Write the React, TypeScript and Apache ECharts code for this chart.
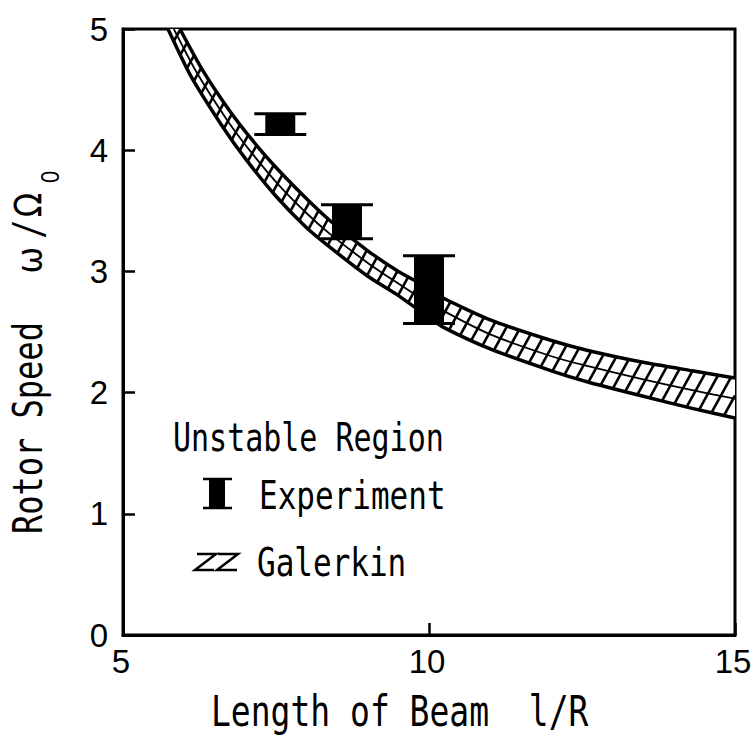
import React, { useEffect, useRef } from "react";
import * as echarts from "echarts";

// ---- Data ----
// Experiment (unstable region measured): x = l/R, low/high = w/Omega0
const expX = [7.57, 8.66, 10.0];
const expLow = [4.13, 3.27, 2.57];
const expHigh = [4.3, 3.55, 3.13];

// Galerkin band boundaries
const upperX = [5.93, 6.3, 6.75, 7.2, 7.57, 8.0, 8.38, 9.0, 9.5, 10.0, 10.23, 11.0, 12.0, 12.58, 13.5, 14.3, 15.0];
const upperY = [5.0, 4.66, 4.32, 4.03, 3.82, 3.6, 3.42, 3.17, 3.0, 2.86, 2.78, 2.6, 2.43, 2.35, 2.25, 2.18, 2.12];
const lowerX = [5.735, 6.1, 6.62, 7.0, 7.5, 8.0, 8.38, 9.0, 9.5, 10.0, 10.23, 11.0, 12.0, 12.58, 13.5, 14.3, 15.0];
const lowerY = [5.0, 4.62, 4.2, 3.93, 3.62, 3.36, 3.2, 2.96, 2.8, 2.62, 2.54, 2.36, 2.18, 2.09, 1.97, 1.87, 1.79];
const midX = [5.83, 6.2, 6.7, 7.1, 7.55, 8.0, 8.38, 9.0, 9.5, 10.0, 11.0, 12.0, 12.5, 13.5, 14.3, 15.0];
const midY = [5.0, 4.645, 4.25, 3.98, 3.71, 3.48, 3.31, 3.07, 2.9, 2.74, 2.48, 2.3, 2.23, 2.11, 2.02, 1.95];

const xRange = [5, 15];
const yRange = [0, 5];
const xInterval = 5;
const yInterval = 1;

const legendTitle = "Unstable Region";
const legendExp = "Experiment";
const legendGal = "Galerkin";
const xTitle = "Length of Beam  l/R";
const yTitleMain = "Rotor Speed";

function hatchSegments(poly: number[][], k: number, spacing: number) {
  const us = poly.map((p) => p[0] + k * p[1]);
  const uMin = Math.min(...us);
  const uMax = Math.max(...us);
  const segs: number[][] = [];
  for (let c = Math.ceil(uMin / spacing) * spacing + 0.5; c < uMax; c += spacing) {
    const pts: number[][] = [];
    for (let i = 0; i < poly.length; i++) {
      const p = poly[i];
      const q = poly[(i + 1) % poly.length];
      const up = us[i];
      const uq = us[(i + 1) % poly.length];
      if ((up <= c && uq > c) || (uq <= c && up > c)) {
        const t = (c - up) / (uq - up);
        pts.push([p[0] + t * (q[0] - p[0]), p[1] + t * (q[1] - p[1])]);
      }
    }
    pts.sort((a, b) => a[1] - b[1]);
    for (let j = 0; j + 1 < pts.length; j += 2) {
      segs.push([pts[j][0], pts[j][1], pts[j + 1][0], pts[j + 1][1]]);
    }
  }
  return segs;
}

const MONO = '"DejaVu Sans Mono", monospace';
const SCALE_Y = 1.28;

export default function App() {
  const ref = useRef<HTMLDivElement>(null);
  useEffect(() => {
    const chart = echarts.init(ref.current!, null, { renderer: "svg" });
    const labelStyle = {
      color: "#000",
      fontSize: 33,
      fontWeight: "normal",
      fontFamily: "Liberation Sans",
    };
    const option: any = {
      animation: false,
      backgroundColor: "#fff",
      grid: {
        left: 123,
        right: 18,
        top: 29,
        bottom: 101,
        show: true,
        borderColor: "#000",
        borderWidth: 3,
        containLabel: false,
        outerBoundsMode: "none",
      },
      xAxis: {
        type: "value",
        min: xRange[0],
        max: xRange[1],
        interval: xInterval,
        axisLine: { show: true, lineStyle: { color: "#000", width: 3 } },
        axisTick: { show: true, inside: true, length: 12, lineStyle: { color: "#000", width: 2.5 } },
        splitLine: { show: false },
        axisLabel: { ...labelStyle, margin: 10, padding: [0, 4, 0, 0] },
      },
      yAxis: {
        type: "value",
        min: yRange[0],
        max: yRange[1],
        interval: yInterval,
        axisLine: { show: true, lineStyle: { color: "#000", width: 3 } },
        axisTick: { show: true, inside: true, length: 12, lineStyle: { color: "#000", width: 2.5 } },
        splitLine: { show: false },
        axisLabel: { ...labelStyle, margin: 15 },
      },
      series: [
        {
          type: "custom",
          name: "Galerkin",
          clip: true,
          data: [[10, 2.7]],
          encode: { x: 0, y: 1 },
          renderItem: (params: any, api: any) => {
            const up = upperX.map((x, i) => api.coord([x, upperY[i]]));
            const lo = lowerX.map((x, i) => api.coord([x, lowerY[i]]));
            const md = midX.map((x, i) => api.coord([x, midY[i]]));
            const poly = up.concat(lo.slice().reverse());
            const segs = hatchSegments(poly, 0.55, 14);
            const children: any[] = [];
            children.push({
              type: "polygon",
              shape: { points: poly },
              style: { fill: "#fff", stroke: "none" },
            });
            segs.forEach((s) =>
              children.push({
                type: "line",
                shape: { x1: s[0], y1: s[1], x2: s[2], y2: s[3] },
                style: { stroke: "#000", lineWidth: 2.6 },
              })
            );
            children.push({
              type: "polyline",
              shape: { points: md, smooth: 0.2 },
              style: { stroke: "#000", lineWidth: 1.8, fill: null },
            });
            children.push({
              type: "polyline",
              shape: { points: up, smooth: 0.2 },
              style: { stroke: "#000", lineWidth: 3.5, fill: null },
            });
            children.push({
              type: "polyline",
              shape: { points: lo, smooth: 0.2 },
              style: { stroke: "#000", lineWidth: 3.5, fill: null },
            });
            return { type: "group", children };
          },
          z: 2,
        },
        {
          type: "custom",
          name: "Experiment",
          clip: true,
          data: expX.map((x, i) => [x, expLow[i], expHigh[i]]),
          encode: { x: 0, y: [1, 2] },
          renderItem: (params: any, api: any) => {
            const x = api.value(0);
            const lo = api.value(1);
            const hi = api.value(2);
            const pt = api.coord([x, hi]);
            const pb = api.coord([x, lo]);
            return {
              type: "group",
              children: [
                {
                  type: "rect",
                  shape: { x: pt[0] - 15, y: pt[1], width: 30, height: pb[1] - pt[1] },
                  style: { fill: "#000" },
                },
                {
                  type: "line",
                  shape: { x1: pt[0] - 26, y1: pt[1], x2: pt[0] + 26, y2: pt[1] },
                  style: { stroke: "#000", lineWidth: 3 },
                },
                {
                  type: "line",
                  shape: { x1: pb[0] - 26, y1: pb[1], x2: pb[0] + 26, y2: pb[1] },
                  style: { stroke: "#000", lineWidth: 3 },
                },
              ],
            };
          },
          z: 3,
        },
      ],
      graphic: {
        elements: [
          // x-axis title
          {
            type: "text",
            x: 211,
            y: 712,
            scaleY: SCALE_Y,
            style: {
              text: xTitle,
              font: `33px ${MONO}`,
              fill: "#000",
              textAlign: "left",
              textVerticalAlign: "middle",
            },
          },
          // y-axis title
          {
            type: "text",
            x: 28,
            y: 534,
            rotation: Math.PI / 2,
            scaleY: SCALE_Y,
            style: {
              text: yTitleMain,
              font: `32px ${MONO}`,
              fill: "#000",
              textAlign: "left",
              textVerticalAlign: "middle",
            },
          },
          {
            type: "text",
            x: 30,
            y: 260,
            rotation: Math.PI / 2,
            scaleY: 1.1,
            style: {
              text: "ω",
              font: '32px "DejaVu Sans", sans-serif',
              fill: "#000",
              textAlign: "center",
              textVerticalAlign: "middle",
            },
          },
          {
            type: "text",
            x: 28,
            y: 229,
            rotation: Math.PI / 2,
            scaleY: SCALE_Y,
            style: {
              text: "/",
              font: `32px ${MONO}`,
              fill: "#000",
              textAlign: "center",
              textVerticalAlign: "middle",
            },
          },
          {
            type: "text",
            x: 28,
            y: 205,
            rotation: Math.PI / 2,
            scaleY: 1.15,
            style: {
              text: "Ω",
              font: '32px "DejaVu Sans", sans-serif',
              fill: "#000",
              textAlign: "center",
              textVerticalAlign: "middle",
            },
          },
          {
            type: "text",
            x: 50,
            y: 177,
            rotation: Math.PI / 2,
            scaleY: 1.15,
            style: {
              text: "0",
              font: '22px "Liberation Sans", sans-serif',
              fill: "#000",
              textAlign: "center",
              textVerticalAlign: "middle",
            },
          },
          // legend
          {
            type: "text",
            x: 173,
            y: 438,
            scaleY: SCALE_Y,
            style: {
              text: legendTitle,
              font: `30px ${MONO}`,
              fill: "#000",
              textAlign: "left",
              textVerticalAlign: "middle",
            },
          },
          {
            type: "text",
            x: 259,
            y: 495,
            scaleY: SCALE_Y,
            style: {
              text: legendExp,
              font: `31px ${MONO}`,
              fill: "#000",
              textAlign: "left",
              textVerticalAlign: "middle",
            },
          },
          {
            type: "text",
            x: 257,
            y: 562,
            scaleY: SCALE_Y,
            style: {
              text: legendGal,
              font: `31px ${MONO}`,
              fill: "#000",
              textAlign: "left",
              textVerticalAlign: "middle",
            },
          },
          // legend I-beam symbol
          {
            type: "rect",
            shape: { x: 209, y: 478, width: 16, height: 31 },
            style: { fill: "#000" },
          },
          {
            type: "line",
            shape: { x1: 203, y1: 479, x2: 232, y2: 479 },
            style: { stroke: "#000", lineWidth: 2.5 },
          },
          {
            type: "line",
            shape: { x1: 203, y1: 508, x2: 232, y2: 508 },
            style: { stroke: "#000", lineWidth: 2.5 },
          },
          // legend ZZ symbol
          {
            type: "polyline",
            shape: { points: [[197, 554], [216, 554], [195, 570], [214, 570]] },
            style: { stroke: "#000", lineWidth: 2.5, fill: null },
          },
          {
            type: "polyline",
            shape: { points: [[218, 554], [238, 554], [217, 570], [237, 570]] },
            style: { stroke: "#000", lineWidth: 2.5, fill: null },
          },
        ],
      },
    };
    chart.setOption(option);
    return () => chart.dispose();
  }, []);
  return (
    <div
      ref={ref}
      style={{ position: "absolute", left: 0, top: 0, width: 753, height: 736, background: "#fff" }}
    />
  );
}
